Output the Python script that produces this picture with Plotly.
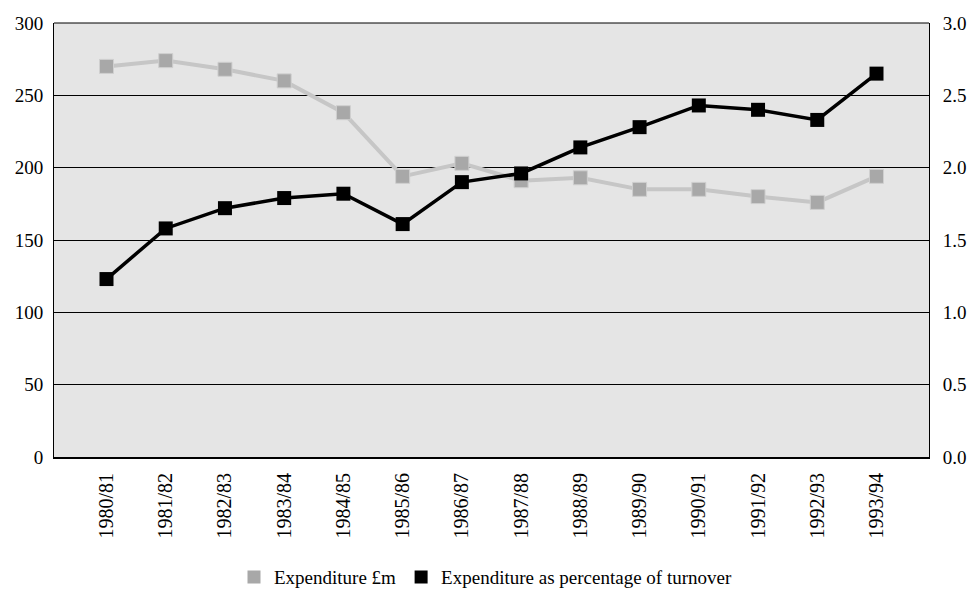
import plotly.graph_objects as go

years = ["1980/81", "1981/82", "1982/83", "1983/84", "1984/85", "1985/86", "1986/87",
         "1987/88", "1988/89", "1989/90", "1990/91", "1991/92", "1992/93", "1993/94"]
expenditure_m = [270, 274, 268, 260, 238, 194, 203, 191, 193, 185, 185, 180, 176, 194]
expenditure_pct = [1.23, 1.58, 1.72, 1.79, 1.82, 1.61, 1.90, 1.96, 2.14, 2.28, 2.43, 2.40, 2.33, 2.65]

left_ticks = [0, 50, 100, 150, 200, 250, 300]
right_ticks = [0.0, 0.5, 1.0, 1.5, 2.0, 2.5, 3.0]
right_labels = ["0.0", "0.5", "1.0", "1.5", "2.0", "2.5", "3.0"]

FONT = "Liberation Serif, 'DejaVu Serif', serif"
GREY_LINE = "#c6c6c6"
GREY_MARK = "#a8a8a8"

fig = go.Figure()
fig.add_trace(go.Scatter(
    x=years, y=expenditure_m, mode="lines+markers", name="Expenditure £m",
    line=dict(color=GREY_LINE, width=4),
    marker=dict(symbol="square", size=14, color=GREY_MARK, line=dict(color="#cfcfcf", width=1)),
    showlegend=False, yaxis="y"))
fig.add_trace(go.Scatter(
    x=years, y=expenditure_pct, mode="lines+markers", name="Expenditure as percentage of turnover",
    line=dict(color="black", width=3.5),
    marker=dict(symbol="square", size=14, color="black"),
    showlegend=False, yaxis="y2"))
# legend entries (squares only)
fig.add_trace(go.Scatter(x=[None], y=[None], mode="markers", name="Expenditure £m",
                         marker=dict(symbol="square", size=13, color=GREY_MARK)))
fig.add_trace(go.Scatter(x=[None], y=[None], mode="markers", name="Expenditure as percentage of turnover",
                         marker=dict(symbol="square", size=13, color="black")))

fig.update_layout(
    width=971, height=600,
    margin=dict(l=54, r=42, t=23, b=143, autoexpand=False),
    paper_bgcolor="white", plot_bgcolor="#e5e5e5",
    font=dict(family=FONT, size=19, color="black"),
    xaxis=dict(type="category", tickangle=-90, showgrid=False, showline=True,
               linecolor="black", linewidth=2, ticks="", mirror=False, automargin=False,
               ticklabelstandoff=6, tickfont=dict(size=20)),
    yaxis=dict(range=[0, 300], tickvals=left_ticks, showgrid=True, gridcolor="black",
               gridwidth=1, showline=True, linecolor="black", linewidth=1, zeroline=False,
               ticks="", ticklen=0, automargin=False, ticklabelstandoff=6,
               tickfont=dict(size=19)),
    yaxis2=dict(range=[0, 3], tickvals=right_ticks, ticktext=right_labels, overlaying="y",
                side="right", showgrid=False, showline=True, linecolor="black", linewidth=1,
                zeroline=False, ticks="", automargin=False, ticklabelstandoff=9,
                tickfont=dict(size=19)),
    legend=dict(orientation="h", x=0.5, xanchor="center", xref="container",
                y=0.038, yanchor="middle", yref="container",
                font=dict(size=19), itemwidth=30, tracegroupgap=0),
    showlegend=True,
)
fig.add_shape(type="line", xref="paper", yref="paper", x0=0, x1=1, y0=1, y1=1,
              line=dict(color="black", width=1))

fig.write_html("out.html")
